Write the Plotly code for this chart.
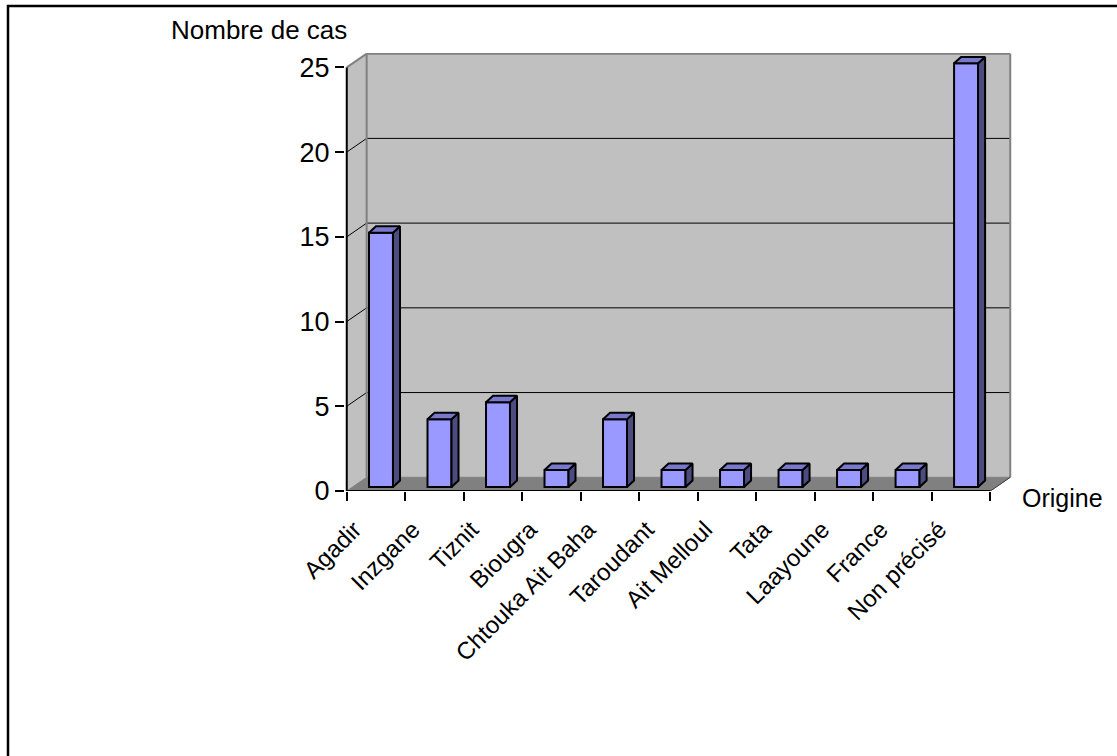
import plotly.graph_objects as go

# ---------------- data ----------------
categories = ["Agadir", "Inzgane", "Tiznit", "Biougra", "Chtouka Ait Baha", "Taroudant",
              "Ait Melloul", "Tata", "Laayoune", "France", "Non précisé"]
values = [15, 4, 5, 1, 4, 1, 1, 1, 1, 1, 25]
y_ticks = [0, 5, 10, 15, 20, 25]
y_title = "Nombre de cas"
x_title = "Origine"

# ---------------- geometry / style ----------------
W, H = 1117, 756
ML, MR, MT, MB = 345, 105, 53, 265
X_MIN, X_MAX = -0.53, 10.87
Y_MIN, Y_MAX = 0, 25.85

n = len(categories)
xa, xb = -0.5, n - 0.5          # front floor edge
wdx, wdy = 0.34, 0.81           # depth of walls / floor (data units)
ytop = y_ticks[-1]

bw, boff, bbase = 0.41, 0.085, 0.24   # bar front face width, offset, base
ddx, ddy = 0.12, 0.38                 # bar depth
label_shift = -0.37                   # rotated labels sit left of the category centre

FRONT, SIDE, TOP = "#9999FF", "#4C4C80", "#7878CC"
WALL, FLOOR, EDGE = "#C0C0C0", "#808080", "#808080"
FONT = "Liberation Sans, Arial, sans-serif"

def path(pts):
    return "M " + " L ".join(f"{x},{y}" for x, y in pts) + " Z"

shapes = []
# side wall
shapes.append(dict(type="path", xref="x", yref="y", layer="below",
                   path=path([(xa, 0), (xa + wdx, wdy), (xa + wdx, ytop + wdy), (xa, ytop)]),
                   fillcolor=WALL, line=dict(width=0)))
# back wall
shapes.append(dict(type="rect", xref="x", yref="y", layer="below",
                   x0=xa + wdx, x1=xb + wdx, y0=wdy, y1=ytop + wdy,
                   fillcolor=WALL, line=dict(width=0)))
# floor
shapes.append(dict(type="path", xref="x", yref="y", layer="below",
                   path=path([(xa, 0), (xb, 0), (xb + wdx, wdy), (xa + wdx, wdy)]),
                   fillcolor=FLOOR, line=dict(color=FLOOR, width=1)))
# gridlines
for v in y_ticks[1:-1]:
    shapes.append(dict(type="line", xref="x", yref="y", layer="below",
                       x0=xa + wdx, x1=xb + wdx, y0=v + wdy, y1=v + wdy,
                       line=dict(color="black", width=1)))
    shapes.append(dict(type="line", xref="x", yref="y", layer="below",
                       x0=xa, x1=xa + wdx, y0=v, y1=v + wdy,
                       line=dict(color="black", width=1)))
# wall edges (grey)
for (p0, p1) in [((xa + wdx, wdy), (xa + wdx, ytop + wdy)),
                 ((xa + wdx, ytop + wdy), (xb + wdx, ytop + wdy)),
                 ((xb + wdx, wdy), (xb + wdx, ytop + wdy)),
                 ((xa, ytop), (xa + wdx, ytop + wdy))]:
    shapes.append(dict(type="line", xref="x", yref="y", layer="below",
                       x0=p0[0], y0=p0[1], x1=p1[0], y1=p1[1],
                       line=dict(color=EDGE, width=2)))
# outer chart border
pw = W - ML - MR
ph = H - MT - MB
shapes.append(dict(type="rect", xref="paper", yref="paper",
                   x0=(8 - ML) / pw, x1=(W + 20 - ML) / pw,
                   y0=(MT + ph - (H + 20)) / ph, y1=(MT + ph - 6) / ph,
                   line=dict(color="black", width=2.5), fillcolor="rgba(0,0,0,0)"))

fig = go.Figure()

# side and top faces of bars
sx, sy, tx, ty = [], [], [], []
for i, v in enumerate(values):
    xl = i + boff - bw / 2
    xr = i + boff + bw / 2
    b = bbase
    sx += [xr, xr + ddx, xr + ddx, xr, xr, None]
    sy += [b, b + ddy, b + v + ddy, b + v, b, None]
    tx += [xl, xl + ddx, xr + ddx, xr, xl, None]
    ty += [b + v, b + v + ddy, b + v + ddy, b + v, b + v, None]

fig.add_trace(go.Bar(x=[i + boff for i in range(n)], y=values, base=bbase, width=bw,
                     marker=dict(color=FRONT, line=dict(color="black", width=2)),
                     hoverinfo="skip", showlegend=False))
fig.add_trace(go.Scatter(x=sx, y=sy, mode="lines", fill="toself", fillcolor=SIDE,
                         line=dict(color="black", width=2), hoverinfo="skip", showlegend=False))
fig.add_trace(go.Scatter(x=tx, y=ty, mode="lines", fill="toself", fillcolor=TOP,
                         line=dict(color="black", width=2), hoverinfo="skip", showlegend=False))
# axis lines
fig.add_trace(go.Scatter(x=[xa, xb], y=[0, 0], mode="lines", cliponaxis=False,
                         line=dict(color="black", width=2), hoverinfo="skip", showlegend=False))
fig.add_trace(go.Scatter(x=[xb, xb + wdx], y=[0, wdy], mode="lines", cliponaxis=False,
                         line=dict(color="#404040", width=1), hoverinfo="skip", showlegend=False))
fig.add_trace(go.Scatter(x=[xa, xa], y=[0, ytop], mode="lines", cliponaxis=False,
                         line=dict(color="black", width=2), hoverinfo="skip", showlegend=False))

fig.update_layout(
    width=W, height=H,
    margin=dict(l=ML, r=MR, t=MT, b=MB, pad=0),
    paper_bgcolor="white", plot_bgcolor="white",
    shapes=shapes,
    font=dict(family=FONT, color="black"),
    xaxis=dict(type="linear", range=[X_MIN, X_MAX], showgrid=False, zeroline=False, showline=False,
               tickmode="array", tickvals=[i + label_shift for i in range(n)], ticktext=categories,
               tickangle=-45, ticks="outside", ticklen=14, tickcolor="rgba(0,0,0,0)",
               tickfont=dict(size=24, family=FONT),
               minor=dict(tickmode="array", tickvals=[i - 0.5 for i in range(n + 1)],
                          ticks="outside", ticklen=9, tickwidth=1.5, tickcolor="black",
                          showgrid=False)),
    yaxis=dict(range=[Y_MIN, Y_MAX], showgrid=False, zeroline=False, showline=False,
               tickmode="array", tickvals=y_ticks, ticks="outside", ticklen=9,
               tickwidth=1.5, tickcolor="black", tickfont=dict(size=27, family=FONT)),
    annotations=[
        dict(text=y_title, xref="paper", yref="paper", x=(259 - ML) / pw, y=(MT + ph - 30) / ph,
             xanchor="center", yanchor="middle", showarrow=False, font=dict(size=26, family=FONT)),
        dict(text=x_title, xref="paper", yref="paper", x=(1020 - ML) / pw, y=(MT + ph - 498) / ph,
             xanchor="left", yanchor="middle", showarrow=False, font=dict(size=25, family=FONT)),
    ],
)

fig.write_html("out.html")
